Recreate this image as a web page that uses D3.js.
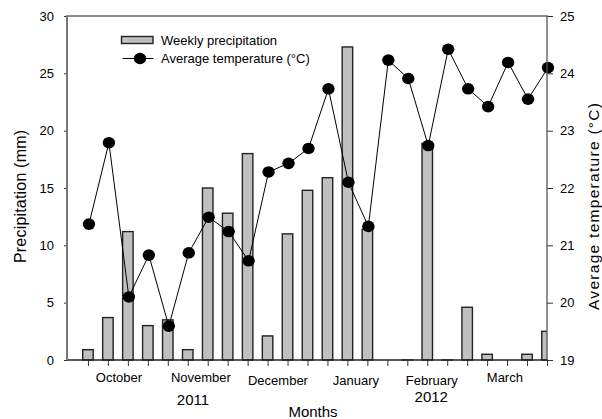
<!DOCTYPE html>
<html>
<head>
<meta charset="utf-8">
<script src="https://cdn.jsdelivr.net/npm/d3@7"></script>
<style>
  html, body { margin: 0; padding: 0; background: #fff; }
  svg { display: block; font-family: "Liberation Sans", Arial, sans-serif; }
</style>
</head>
<body>
<svg id="chart" width="602" height="419"></svg>
<script>
// Weekly precipitation (mm) and average temperature (°C), Oct 2011 – Mar 2012
const weeks = d3.range(24);
const precipitation = [0.9, 3.7, 11.2, 3.0, 3.5, 0.9, 15.0, 12.8, 18.0, 2.1, 11.0, 14.8,
                       15.9, 27.3, 11.4, null, 0, 18.9, 0, 4.6, 0.5, null, 0.5, 2.5];
const temperature = [21.37, 22.79, 20.10, 20.83, 19.59, 20.87, 21.49, 21.24, 20.73, 22.28, 22.43, 22.69,
                     23.73, 22.10, 21.33, 24.23, 23.91, 22.74, 24.42, 23.73, 23.42, 24.19, 23.55, 24.10];
const monthNames = ["October", "November", "December", "January", "February", "March"];
const monthWeek = [1.55, 5.66, 9.52, 13.43, 17.23, 20.89];
const yearNames = ["2011", "2012"];
const yearWeek = [5.26, 17.2];
const precipTicks = [0, 5, 10, 15, 20, 25, 30];
const tempTicks = [19, 20, 21, 22, 23, 24, 25];

const svg = d3.select("#chart");
const plotLeft = 67, plotRight = 547, plotTop = 16, plotBottom = 360;

const x = d3.scaleLinear().domain([-1.05, 23]).range([plotLeft, plotRight]);
const yP = d3.scaleLinear().domain([0, 30]).range([plotBottom, plotTop]);
const yT = d3.scaleLinear().domain([19, 25]).range([plotBottom, plotTop]);

svg.append("defs").append("clipPath").attr("id", "plot")
  .append("rect").attr("x", plotLeft).attr("y", plotTop - 2)
  .attr("width", plotRight - plotLeft).attr("height", plotBottom - plotTop + 4);

// precipitation bars (a zero week still shows its outline as a flat bar)
const barW = 10.5;
svg.append("g").attr("clip-path", "url(#plot)")
  .selectAll("rect")
  .data(weeks.filter(i => precipitation[i] !== null))
  .join("rect")
  .attr("x", i => x(i) - barW / 2)
  .attr("y", i => yP(precipitation[i]))
  .attr("width", barW)
  .attr("height", i => Math.max(yP(0) - yP(precipitation[i]), 0.01))
  .attr("fill", "#c0c0c0")
  .attr("stroke", "#222")
  .attr("stroke-width", 1.4);

// temperature line and markers
svg.append("path")
  .datum(weeks)
  .attr("fill", "none")
  .attr("stroke", "#000")
  .attr("stroke-width", 1)
  .attr("d", d3.line().x(i => x(i) + 1).y(i => yT(temperature[i])));

svg.append("g").selectAll("ellipse")
  .data(weeks)
  .join("ellipse")
  .attr("cx", i => x(i) + 1)
  .attr("cy", i => yT(temperature[i]))
  .attr("rx", 6.2).attr("ry", 5.8)
  .attr("fill", "#000");

// axes
const axisStyle = g => {
  g.selectAll("text").attr("font-size", 13).attr("fill", "#000")
    .attr("font-family", "Liberation Sans, Arial, sans-serif");
  g.select(".domain").remove();
  g.selectAll(".tick line").attr("stroke", "#333");
};

svg.append("g").attr("transform", `translate(${plotLeft},0)`)
  .call(d3.axisLeft(yP).tickValues(precipTicks).tickFormat(d3.format("d")).tickSize(3).tickPadding(10))
  .call(axisStyle);

svg.append("g").attr("transform", `translate(${plotRight},0)`)
  .call(d3.axisRight(yT).tickValues(tempTicks).tickFormat(d3.format("d")).tickSize(6).tickPadding(7))
  .call(axisStyle);

svg.append("g").attr("transform", `translate(0,${plotBottom})`)
  .call(d3.axisBottom(x).tickValues(weeks).tickSize(6).tickFormat(""))
  .call(axisStyle);

// frame
svg.append("line").attr("x1", plotLeft - 1).attr("x2", plotRight + 1).attr("y1", plotTop).attr("y2", plotTop)
  .attr("stroke", "#666").attr("stroke-width", 1.5);
svg.append("line").attr("x1", plotLeft - 1).attr("x2", plotRight + 1).attr("y1", plotBottom).attr("y2", plotBottom)
  .attr("stroke", "#222").attr("stroke-width", 1.5);
svg.append("line").attr("x1", plotLeft).attr("x2", plotLeft).attr("y1", plotTop).attr("y2", plotBottom)
  .attr("stroke", "#777").attr("stroke-width", 2);
svg.append("line").attr("x1", plotRight).attr("x2", plotRight).attr("y1", plotTop).attr("y2", plotBottom)
  .attr("stroke", "#555").attr("stroke-width", 1.3);

// month and year labels
const lowered = new Set(["December", "January", "February"]);
svg.append("g").selectAll("text")
  .data(monthNames)
  .join("text")
  .attr("x", (d, i) => x(monthWeek[i]))
  .attr("y", d => lowered.has(d) ? 384.5 : 381.8)
  .attr("text-anchor", "middle")
  .attr("font-size", 13)
  .text(d => d);

svg.append("g").selectAll("text")
  .data(yearNames)
  .join("text")
  .attr("x", (d, i) => x(yearWeek[i]))
  .attr("y", (d, i) => i === 0 ? 404.8 : 401.5)
  .attr("text-anchor", "middle")
  .attr("font-size", 15)
  .text(d => d);

svg.append("text")
  .attr("x", 313).attr("y", 417)
  .attr("text-anchor", "middle")
  .attr("font-size", 15)
  .text("Months");

// axis titles
svg.append("text")
  .attr("transform", "translate(26,196.5) rotate(-90)")
  .attr("text-anchor", "middle")
  .attr("font-size", 16)
  .attr("textLength", 133).attr("lengthAdjust", "spacing")
  .text("Precipitation (mm)");

svg.append("text")
  .attr("transform", "translate(598.5,206.5) rotate(-90)")
  .attr("text-anchor", "middle")
  .attr("font-size", 15.5)
  .attr("textLength", 207).attr("lengthAdjust", "spacing")
  .text("Average temperature (°C)");

// legend
const lg = svg.append("g");
lg.append("rect").attr("x", 121.5).attr("y", 36.5).attr("width", 31.5).attr("height", 7)
  .attr("fill", "#c0c0c0").attr("stroke", "#222").attr("stroke-width", 1.4);
lg.append("text").attr("x", 161).attr("y", 44.5).attr("font-size", 13).text("Weekly precipitation");
lg.append("line").attr("x1", 122.5).attr("x2", 153.5).attr("y1", 58.5).attr("y2", 58.5)
  .attr("stroke", "#000").attr("stroke-width", 1);
lg.append("ellipse").attr("cx", 140).attr("cy", 58.5).attr("rx", 6.2).attr("ry", 5.8).attr("fill", "#000");
lg.append("text").attr("x", 161).attr("y", 63).attr("font-size", 13).text("Average temperature (°C)");
</script>
</body>
</html>
